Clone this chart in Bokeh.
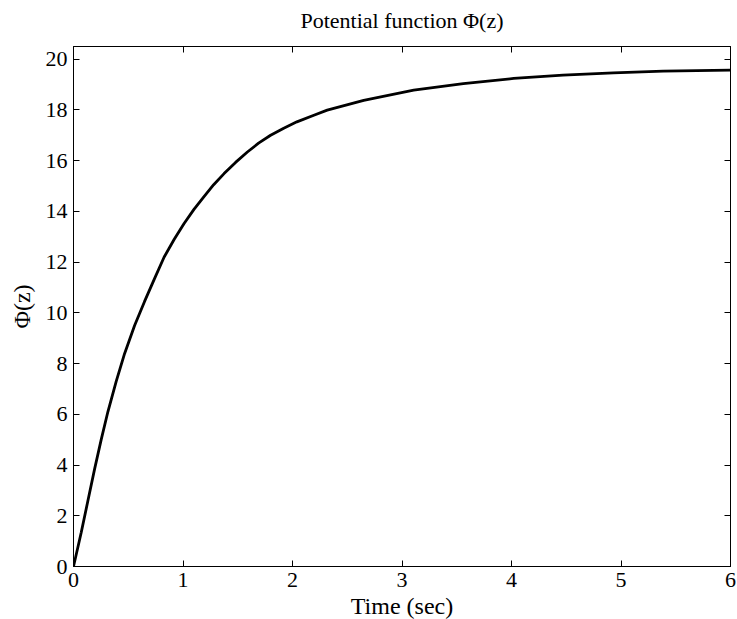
from bokeh.plotting import figure
from bokeh.models import Range1d, LinearAxis, FixedTicker, CustomJSTickFormatter
from bokeh.embed import file_html
from bokeh.resources import INLINE

# Data
time_sec = [0, 0.071, 0.132, 0.193, 0.253, 0.314, 0.39, 0.467, 0.558, 0.649,
            0.74, 0.828, 0.92, 1.01, 1.10, 1.19, 1.28, 1.375, 1.48, 1.588,
            1.69, 1.80, 1.92, 2.04, 2.195, 2.317, 2.65, 3.107, 3.56, 4.02,
            4.47, 4.93, 5.385, 6.0]
phi_z = [0, 1.35, 2.6, 3.85, 5.0, 6.1, 7.3, 8.4, 9.5, 10.45,
         11.35, 12.2, 12.9, 13.52, 14.08, 14.57, 15.05, 15.49, 15.93, 16.34,
         16.69, 17.0, 17.28, 17.53, 17.79, 17.99, 18.38, 18.78, 19.04, 19.24,
         19.37, 19.46, 19.53, 19.57]

x_ticks = [0, 1, 2, 3, 4, 5, 6]
y_ticks = [0, 2, 4, 6, 8, 10, 12, 14, 16, 18, 20]

title_text = "Potential function \u03a6(z)"
x_label = "Time (sec)"
y_label = "\u03a6(z)"

FONT = "Liberation Serif"
TICK_FS = "22px"
TITLE_FS = "22px"
LABEL_FS = "24px"

p = figure(frame_width=657, frame_height=520,
           x_range=Range1d(0, 6), y_range=Range1d(0, 20.5),
           output_backend="svg", toolbar_location=None,
           min_border_left=73, min_border_top=46, min_border_right=6,
           min_border_bottom=52)

p.line(time_sec, phi_z, line_color="black", line_width=2.8)

p.grid.visible = False
p.outline_line_color = "black"
p.outline_line_width = 1
p.background_fill_color = "white"
p.border_fill_color = "white"

def style_axis(ax, show_labels=True):
    ax.major_tick_in = 6
    ax.major_tick_out = 0
    ax.minor_tick_in = 0
    ax.minor_tick_out = 0
    ax.axis_line_color = "black"
    ax.major_tick_line_color = "black"
    ax.major_label_text_font = FONT
    ax.major_label_text_font_size = TICK_FS if show_labels else "1px"
    ax.major_label_text_color = "black"
    ax.axis_label_text_font = FONT
    ax.axis_label_text_font_size = LABEL_FS
    ax.axis_label_text_font_style = "normal"
    ax.axis_label_text_color = "black"
    if not show_labels:
        ax.major_label_standoff = 0
        ax.formatter = CustomJSTickFormatter(code="return '';")

xa = p.xaxis[0]
xa.ticker = FixedTicker(ticks=x_ticks)
xa.axis_label = x_label
style_axis(xa)
xa.major_label_standoff = 6
xa.axis_label_standoff = 3

ya = p.yaxis[0]
ya.ticker = FixedTicker(ticks=y_ticks)
ya.axis_label = y_label
style_axis(ya)
ya.major_label_standoff = 6
ya.axis_label_standoff = 8

# Top mirror axis carries the chart title as its axis label
top = LinearAxis(ticker=FixedTicker(ticks=x_ticks))
style_axis(top, show_labels=False)
top.axis_label = title_text
top.axis_label_text_font_size = TITLE_FS
top.axis_label_standoff = 14
p.add_layout(top, "above")

right = LinearAxis(ticker=FixedTicker(ticks=y_ticks))
style_axis(right, show_labels=False)
p.add_layout(right, "right")

open("out.html", "w").write(file_html(p, INLINE))
